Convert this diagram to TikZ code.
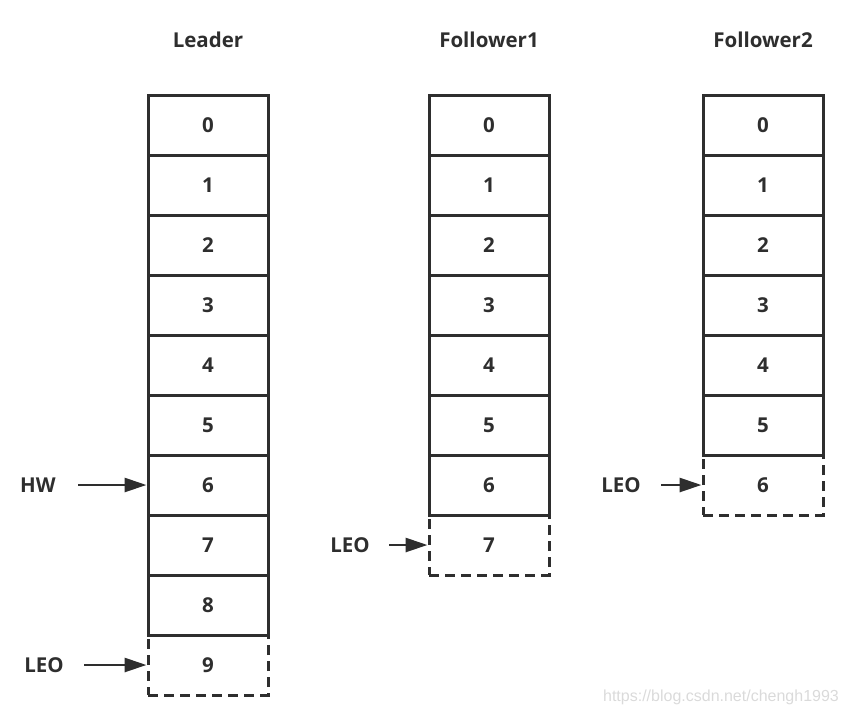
\documentclass[tikz,border=0pt]{standalone}
\usepackage{fontspec}
\setmainfont{Open Sans}
\setsansfont{Liberation Sans}
\usetikzlibrary{arrows.meta}
\definecolor{linec}{HTML}{2E2E2E}
\definecolor{textc}{HTML}{2E2E2E}
\definecolor{wmark}{HTML}{DADADA}
\begin{document}
\begin{tikzpicture}[x=1pt,y=-1pt,
  lbl/.style={font=\bfseries\fontsize{20.5}{22}\selectfont, text=textc, inner sep=0pt},
  cell/.style={lbl, draw=linec, line width=3pt, minimum width=120pt, minimum height=60pt},
  dcell/.style={cell, dash pattern=on 10pt off 6pt},
  ptr/.style={draw=linec, line width=2.8pt, -{Triangle[length=22pt,width=14pt]}}]
\useasboundingbox (0,0) rectangle (848,716);
% titles
\node[lbl] (tL) at (208,40) {Leader};
\node[lbl] (tA) at (489,40) {Follower1};
\node[lbl] (tB) at (763,40) {Follower2};
% leader
\foreach \i in {0,...,8} \node[cell] (L\i) at (208,{125+60*\i}) {\i};
\node[dcell] (L9) at (208,665) {9};
% follower1
\foreach \i in {0,...,6} \node[cell] (A\i) at (489,{125+60*\i}) {\i};
\node[dcell] (A7) at (489,545) {7};
% follower2
\foreach \i in {0,...,5} \node[cell] (B\i) at (763,{125+60*\i}) {\i};
\node[dcell] (B6) at (763,485) {6};
% pointers
\node[lbl] (hw) at (38,485) {HW};
\coordinate (hws) at (78,485);
\draw[ptr] (hws) -- (L6.west);
\node[lbl] (leoL) at (44,665) {LEO};
\coordinate (leoLs) at (84,665);
\draw[ptr] (leoLs) -- (L9.west);
\node[lbl] (leoA) at (350,545) {LEO};
\coordinate (leoAs) at (389,545);
\draw[ptr] (leoAs) -- (A7.west);
\node[lbl] (leoB) at (621,485) {LEO};
\coordinate (leoBs) at (661,485);
\draw[ptr] (leoBs) -- (B6.west);
% watermark
\node[font=\sffamily\fontsize{16}{18}\selectfont, text=wmark, inner sep=0pt] (wm) at (721,697) {https://blog.csdn.net/chengh1993};
\end{tikzpicture}
\end{document}
